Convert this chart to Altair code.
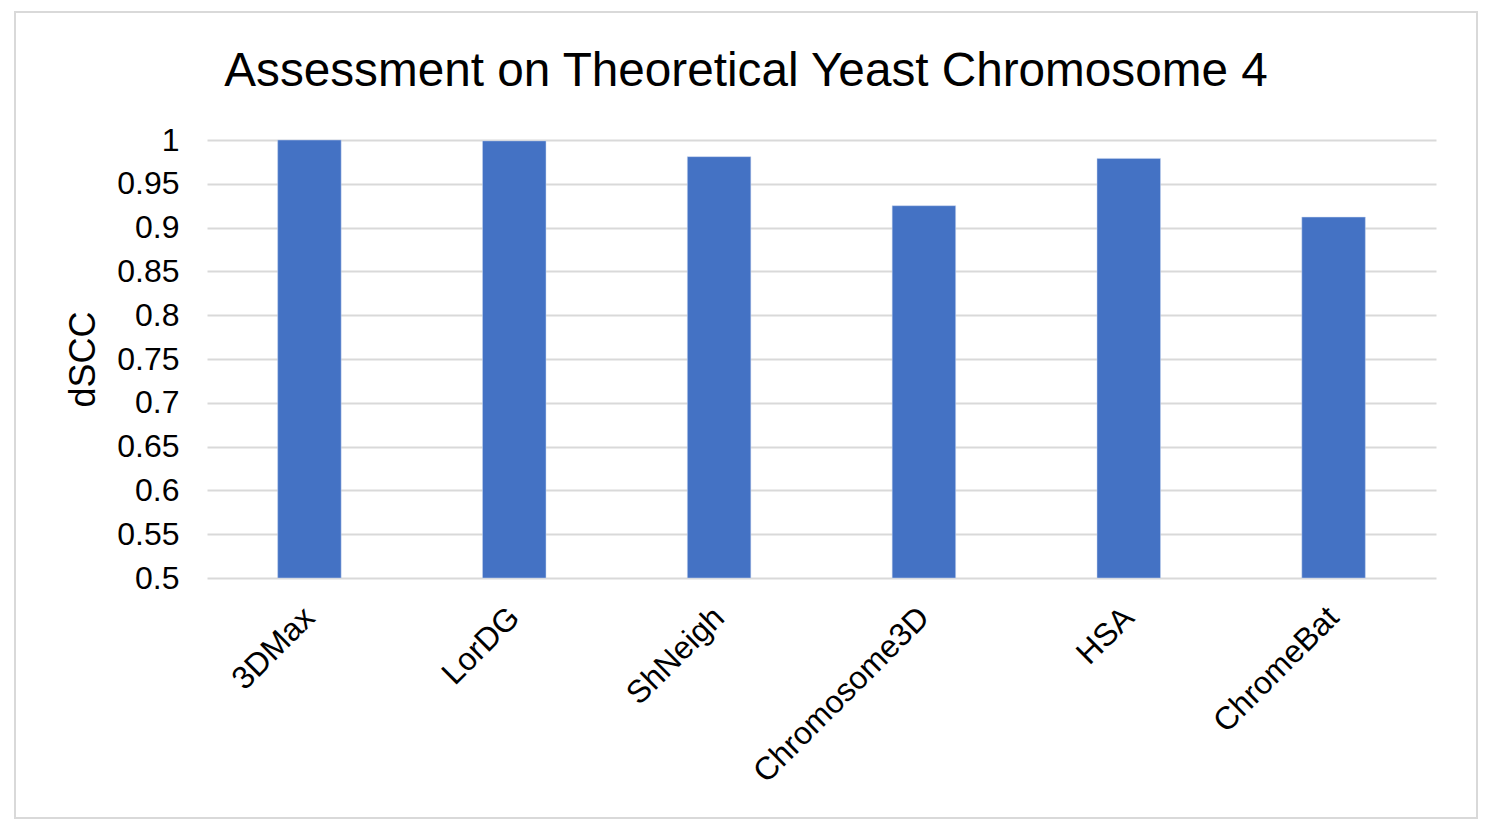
import altair as alt
import pandas as pd

methods = ["3DMax", "LorDG", "ShNeigh", "Chromosome3D", "HSA", "ChromeBat"]
dscc = [1.0, 0.999, 0.981, 0.925, 0.979, 0.912]
y_ticks = [0.5, 0.55, 0.6, 0.65, 0.7, 0.75, 0.8, 0.85, 0.9, 0.95, 1.0]
title_text = "Assessment on Theoretical Yeast Chromosome 4"

df = pd.DataFrame({"method": methods, "dSCC": dscc, "base": [0.5] * len(methods)})

W, H = 1229, 438
FONT = "Liberation Sans"

frame = alt.Chart(pd.DataFrame({"a": [0]})).mark_rect(
    fill="transparent", stroke="#d9d9d9", strokeWidth=2, clip=False
).encode(
    x=alt.value(-192), x2=alt.value(1270),
    y=alt.value(-128), y2=alt.value(678)
)

title = alt.Chart(pd.DataFrame({"t": [title_text]})).mark_text(
    font=FONT, fontSize=47.7, color="black", align="center", baseline="alphabetic", clip=False
).encode(
    text="t:N", x=alt.value(539), y=alt.value(-54)
)

bars = alt.Chart(df).mark_bar(color="#4472C4", stroke="#c9d7ee", strokeWidth=0.5).encode(
    x=alt.X("method:N", sort=methods,
            scale=alt.Scale(paddingInner=0.69, paddingOuter=0.345),
            axis=alt.Axis(title=None, labelAngle=-45, labelFontSize=32, labelFont=FONT,
                          labelColor="black", labelPadding=34, ticks=False, domain=False,
                          grid=False, labelAlign="right", labelBaseline="middle",
                          labelLimit=0)),
    y=alt.Y("dSCC:Q", scale=alt.Scale(domain=[0.5, 1.0], zero=False, nice=False),
            axis=alt.Axis(title="dSCC", values=y_ticks, format="~g", labelFontSize=32,
                          labelFont=FONT, labelColor="black", labelPadding=28, ticks=False,
                          domain=False, grid=True, gridColor="#d9d9d9", gridWidth=2,
                          titleFont=FONT, titleFontSize=36, titleFontWeight="normal",
                          titleColor="black", titlePadding=14)),
    y2="base:Q",
)

chart = alt.layer(frame, title, bars).properties(
    width=W, height=H,
    autosize=alt.AutoSizeParams(type="none"),
    padding={"left": 199, "top": 132, "right": 48, "bottom": 242},
).configure_view(stroke=None)

chart.save("out.html", embed_options={"renderer": "svg", "actions": False})
